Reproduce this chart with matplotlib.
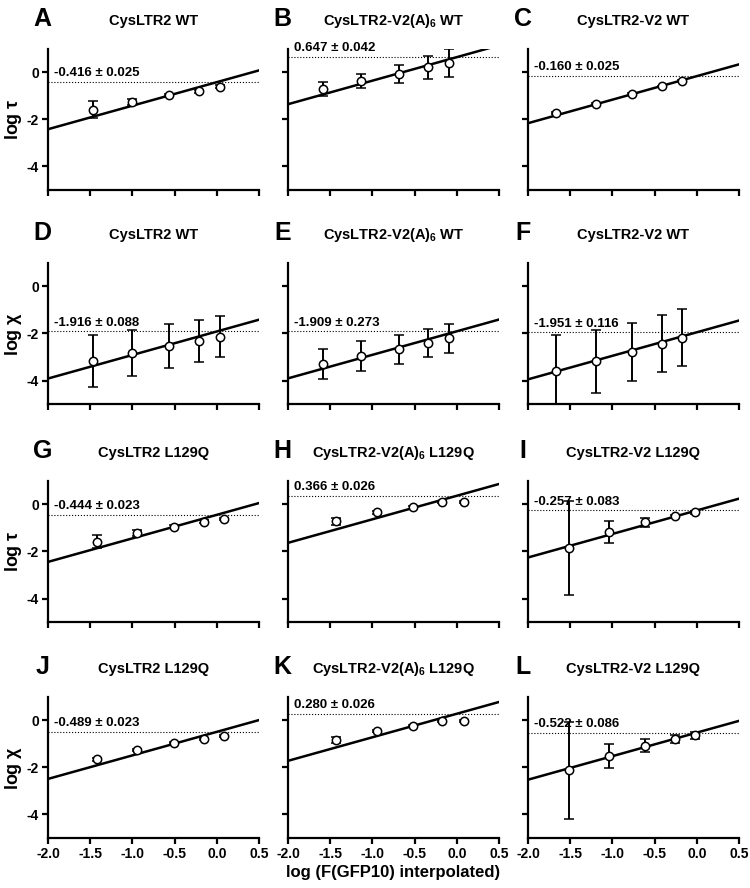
import numpy as np
import matplotlib
matplotlib.use("Agg")
import matplotlib.pyplot as plt

plt.rcParams['font.family'] = ['Liberation Sans', 'DejaVu Sans']
plt.rcParams['font.weight'] = 'bold'
plt.rcParams['axes.unicode_minus'] = False
plt.rcParams['mathtext.fontset'] = 'custom'
plt.rcParams['mathtext.rm'] = 'Liberation Sans:bold'
plt.rcParams['mathtext.it'] = 'Liberation Sans:bold'
plt.rcParams['mathtext.bf'] = 'Liberation Sans:bold'
plt.rcParams['mathtext.default'] = 'rm'

letters = ['A', 'B', 'C', 'D', 'E', 'F', 'G', 'H', 'I', 'J', 'K', 'L']
titles = ['CysLTR2 WT', 'CysLTR2-V2(A)$_6$ WT', 'CysLTR2-V2 WT',
          'CysLTR2 WT', 'CysLTR2-V2(A)$_6$ WT', 'CysLTR2-V2 WT',
          'CysLTR2 L129Q', 'CysLTR2-V2(A)$_6$ L129Q', 'CysLTR2-V2 L129Q',
          'CysLTR2 L129Q', 'CysLTR2-V2(A)$_6$ L129Q', 'CysLTR2-V2 L129Q']
row_ylabels = [r'log $\tau$', r'log $\chi$', r'log $\tau$', r'log $\chi$']

# fitted intercept (value at x = 0) +- error, and slope of the fit line
intercepts = [-0.416, 0.647, -0.160, -1.916, -1.909, -1.951,
              -0.444, 0.366, -0.257, -0.489, 0.280, -0.522]
intercept_err = [0.025, 0.042, 0.025, 0.088, 0.273, 0.116,
                 0.023, 0.026, 0.083, 0.023, 0.026, 0.086]
slopes = [1.0, 1.0, 1.0, 1.0, 1.0, 1.0, 1.0, 1.0, 1.0, 1.0, 1.0, 1.0]

x_A = [-1.47, -1.00, -0.57, -0.21, 0.04]
x_B = [-1.59, -1.13, -0.69, -0.34, -0.09]
x_C = [-1.67, -1.20, -0.77, -0.41, -0.17]
x_G = [-1.42, -0.94, -0.51, -0.15, 0.09]
x_H = [-1.43, -0.95, -0.52, -0.17, 0.08]
x_I = [-1.51, -1.04, -0.61, -0.26, -0.02]

y_A = [-1.59, -1.26, -0.97, -0.80, -0.61]
e_A = [0.37, 0.14, 0.05, 0.06, 0.06]
y_B = [-0.69, -0.36, -0.07, 0.21, 0.39]
e_B = [0.30, 0.31, 0.38, 0.50, 0.59]
y_C = [-1.74, -1.33, -0.93, -0.60, -0.36]
e_C = [0.04, 0.04, 0.04, 0.04, 0.04]
y_D = [-3.17, -2.83, -2.53, -2.33, -2.14]
e_D = [1.10, 0.99, 0.92, 0.90, 0.88]
y_E = [-3.29, -2.96, -2.67, -2.39, -2.21]
e_E = [0.64, 0.63, 0.62, 0.60, 0.61]
y_F = [-3.60, -3.19, -2.79, -2.43, -2.19]
e_F = [1.53, 1.32, 1.24, 1.21, 1.21]
y_G = [-1.58, -1.23, -0.94, -0.73, -0.61]
e_G = [0.27, 0.13, 0.05, 0.05, 0.05]
y_H = [-0.71, -0.34, -0.13, 0.09, 0.09]
e_H = [0.15, 0.05, 0.05, 0.04, 0.04]
y_I = [-1.86, -1.19, -0.76, -0.51, -0.34]
e_I = [2.00, 0.47, 0.19, 0.05, 0.05]
y_J = [-1.66, -1.26, -0.97, -0.79, -0.66]
e_J = [0.05, 0.05, 0.05, 0.05, 0.05]
y_K = [-0.83, -0.46, -0.24, -0.03, -0.03]
e_K = [0.14, 0.04, 0.04, 0.04, 0.04]
y_L = [-2.13, -1.50, -1.07, -0.80, -0.64]
e_L = [2.07, 0.51, 0.26, 0.16, 0.14]

xs = [x_A, x_B, x_C, x_A, x_B, x_C, x_G, x_H, x_I, x_G, x_H, x_I]
ys = [y_A, y_B, y_C, y_D, y_E, y_F, y_G, y_H, y_I, y_J, y_K, y_L]
errs = [e_A, e_B, e_C, e_D, e_E, e_F, e_G, e_H, e_I, e_J, e_K, e_L]

x_ticks = [-2.0, -1.5, -1.0, -0.5, 0.0, 0.5]
y_ticks = [0, -2, -4]

fig = plt.figure(figsize=(7.5, 8.88), dpi=100)
lefts = [0.064, 0.384, 0.704]
bottoms = [0.786, 0.545, 0.2995, 0.0563]
w, h = 0.2813, 0.159

for i in range(12):
    r, c = divmod(i, 3)
    ax = fig.add_axes([lefts[c], bottoms[r], w, h])
    ax.set_xlim(-2.0, 0.5)
    ax.set_ylim(-5, 1)

    xl = np.array([-2.0, 0.5])
    ax.plot(xl, intercepts[i] + slopes[i] * xl, color='black', lw=1.8, zorder=2)
    ax.axhline(intercepts[i], color='black', ls=':', lw=0.8, zorder=1)
    ax.errorbar(xs[i], ys[i], yerr=errs[i], fmt='o', color='black', ecolor='black',
                mfc='white', mec='black', ms=6, mew=1.1, elinewidth=1.4,
                capsize=3.5, capthick=1.4, zorder=3)

    ax.annotate('%.3f \u00b1 %.3f' % (intercepts[i], intercept_err[i]),
                xy=(-1.93, intercepts[i]), xytext=(0, 2), textcoords='offset points',
                fontsize=9.5, fontweight='bold', va='bottom', ha='left')

    for s in ['top', 'right']:
        ax.spines[s].set_visible(False)
    for s in ['left', 'bottom']:
        ax.spines[s].set_linewidth(1.6)
    ax.tick_params(width=1.6, length=4, direction='out', labelsize=10, pad=2.5)
    ax.set_xticks(x_ticks)
    ax.set_yticks(y_ticks)
    if r == 3:
        ax.set_xticklabels(['%.1f' % t for t in x_ticks], fontweight='bold')
    else:
        ax.set_xticklabels([])
    if c == 0:
        ax.set_yticklabels([str(t) for t in y_ticks], fontweight='bold')
        ax.set_ylabel(row_ylabels[r], fontsize=13, fontweight='bold', labelpad=2)
    else:
        ax.set_yticklabels([])

    ax.text(0.5, 1.2, titles[i], transform=ax.transAxes, ha='center', va='center',
            fontsize=10.5, fontweight='bold')
    ax.text(-0.025, 1.21, letters[i], transform=ax.transAxes, ha='center', va='center',
            fontsize=18, fontweight='bold')

    if r == 3 and c == 1:
        ax.set_xlabel('log (F(GFP10) interpolated)', fontsize=12, fontweight='bold',
                      labelpad=3)

fig.savefig('out.png', dpi=100)
